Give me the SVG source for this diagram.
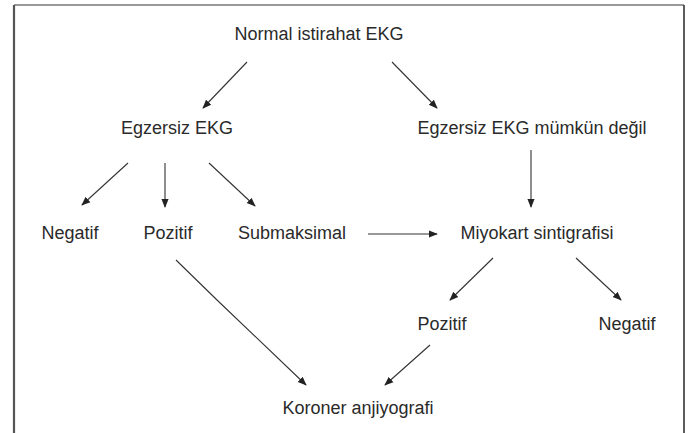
<svg xmlns="http://www.w3.org/2000/svg" width="693" height="433" viewBox="0 0 693 433">
<defs>
<style>
text{font-family:"Liberation Sans",Arial,sans-serif;font-size:18px;fill:#2a2a2a;text-anchor:middle}
.c{stroke:#333;stroke-width:1.1;fill:none;marker-end:url(#ah)}
</style>
<marker id="ah" viewBox="0 0 10 10" refX="9" refY="5" markerWidth="9" markerHeight="9" markerUnits="userSpaceOnUse" orient="auto">
<path d="M0,1 L10,5 L0,9 Z" fill="#222"/>
</marker>
</defs>
<rect x="0" y="0" width="693" height="433" fill="#fff"/>
<g id="frame">
<line x1="14" y1="5" x2="684" y2="5" stroke="#777" stroke-width="1.5"/>
<line x1="14" y1="5" x2="14" y2="433" stroke="#555" stroke-width="2.2"/>
<line x1="684" y1="5" x2="684" y2="433" stroke="#333" stroke-width="1.6"/>
</g>
<g id="connectors">
<line class="c" x1="247" y1="62" x2="203" y2="108"/>
<line class="c" x1="392" y1="62" x2="437" y2="108"/>
<line class="c" x1="128" y1="163" x2="82" y2="205"/>
<line class="c" x1="165" y1="163" x2="165" y2="207"/>
<line class="c" x1="209" y1="163" x2="255" y2="206"/>
<line class="c" x1="531" y1="150" x2="531" y2="207"/>
<line class="c" x1="368" y1="234" x2="437" y2="234"/>
<path class="c" d="M176,260 L217,300 L306,385"/>
<line class="c" x1="493" y1="258" x2="450" y2="300"/>
<line class="c" x1="576" y1="258" x2="621" y2="300"/>
<line class="c" x1="430" y1="345" x2="385" y2="385"/>
</g>
<g id="n-normal"><text x="319" y="40">Normal istirahat EKG</text></g>
<g id="n-egzersiz"><text x="177" y="134">Egzersiz EKG</text></g>
<g id="n-degil"><text x="532" y="134">Egzersiz EKG mümkün değil</text></g>
<g id="n-negatif1"><text x="70" y="239">Negatif</text></g>
<g id="n-pozitif1"><text x="168" y="239">Pozitif</text></g>
<g id="n-submaksimal"><text x="292" y="239">Submaksimal</text></g>
<g id="n-miyokart"><text x="537" y="239">Miyokart sintigrafisi</text></g>
<g id="n-pozitif2"><text x="442" y="330">Pozitif</text></g>
<g id="n-negatif2"><text x="627" y="330">Negatif</text></g>
<g id="n-koroner"><text x="358" y="414">Koroner anjiyografi</text></g>
</svg>
